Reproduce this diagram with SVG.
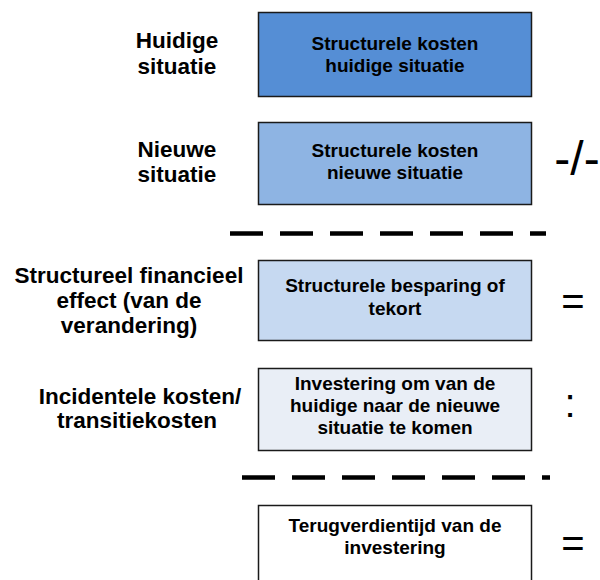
<svg xmlns="http://www.w3.org/2000/svg" width="600" height="580" viewBox="0 0 600 580">
<style>
  .lbl { font-family: "Liberation Sans", Arial, sans-serif; font-weight: bold; font-size: 22.5px; fill: #000; text-anchor: middle; }
  .box { stroke: #1a1a1a; stroke-width: 1.5; }
  .bt { font-family: "Liberation Sans", Arial, sans-serif; font-weight: bold; font-size: 19px; fill: #000; text-anchor: middle; }
  .op { font-family: "Liberation Sans", Arial, sans-serif; font-size: 40px; fill: #000; text-anchor: middle; }
  .op.big { font-size: 48px; }
  .dash { stroke: #000; stroke-width: 4.5; stroke-dasharray: 33 17; fill: none; }
</style>
<rect width="600" height="580" fill="#fff"/>
<g id="labels">
  <text class="lbl" x="177" y="48">Huidige</text>
  <text class="lbl" x="177" y="74">situatie</text>
  <text class="lbl" x="177" y="157">Nieuwe</text>
  <text class="lbl" x="177" y="182">situatie</text>
  <text class="lbl" x="129" y="283">Structureel financieel</text>
  <text class="lbl" x="129" y="308">effect (van de</text>
  <text class="lbl" x="129" y="333">verandering)</text>
  <text class="lbl" x="140" y="404">Incidentele kosten/</text>
  <text class="lbl" x="137" y="428">transitiekosten</text>
</g>
<g id="node-huidig">
  <rect class="box" x="258.5" y="12.5" width="273" height="84" fill="#558ED5"/>
  <text class="bt" x="395" y="50">Structurele kosten</text>
  <text class="bt" x="395" y="72">huidige situatie</text>
</g>
<g id="node-nieuw">
  <rect class="box" x="258.5" y="122.5" width="273" height="82" fill="#8EB4E3"/>
  <text class="bt" x="395" y="157">Structurele kosten</text>
  <text class="bt" x="395" y="179">nieuwe situatie</text>
</g>
<g id="node-besparing">
  <rect class="box" x="258.5" y="260.5" width="273" height="80" fill="#C6D9F1"/>
  <text class="bt" x="395" y="292">Structurele besparing of</text>
  <text class="bt" x="395" y="315">tekort</text>
</g>
<g id="node-investering">
  <rect class="box" x="258.5" y="368.5" width="273" height="82" fill="#E9EEF6"/>
  <text class="bt" x="395" y="390">Investering om van de</text>
  <text class="bt" x="395" y="412">huidige naar de nieuwe</text>
  <text class="bt" x="395" y="434">situatie te komen</text>
</g>
<g id="node-terugverdientijd">
  <rect class="box" x="258.5" y="505.5" width="273" height="80" fill="#fff"/>
  <text class="bt" x="395" y="532">Terugverdientijd van de</text>
  <text class="bt" x="395" y="554">investering</text>
</g>
<g id="connectors">
  <line class="dash" x1="230" y1="233.5" x2="546" y2="233.5"/>
  <line class="dash" x1="242" y1="477.5" x2="550" y2="477.5"/>
</g>
<g id="operators">
  <text class="op big" x="577" y="175">-/-</text>
  <text class="op" x="573" y="315">=</text>
  <text class="op" x="570" y="417">:</text>
  <text class="op" x="573" y="557">=</text>
</g>
</svg>
